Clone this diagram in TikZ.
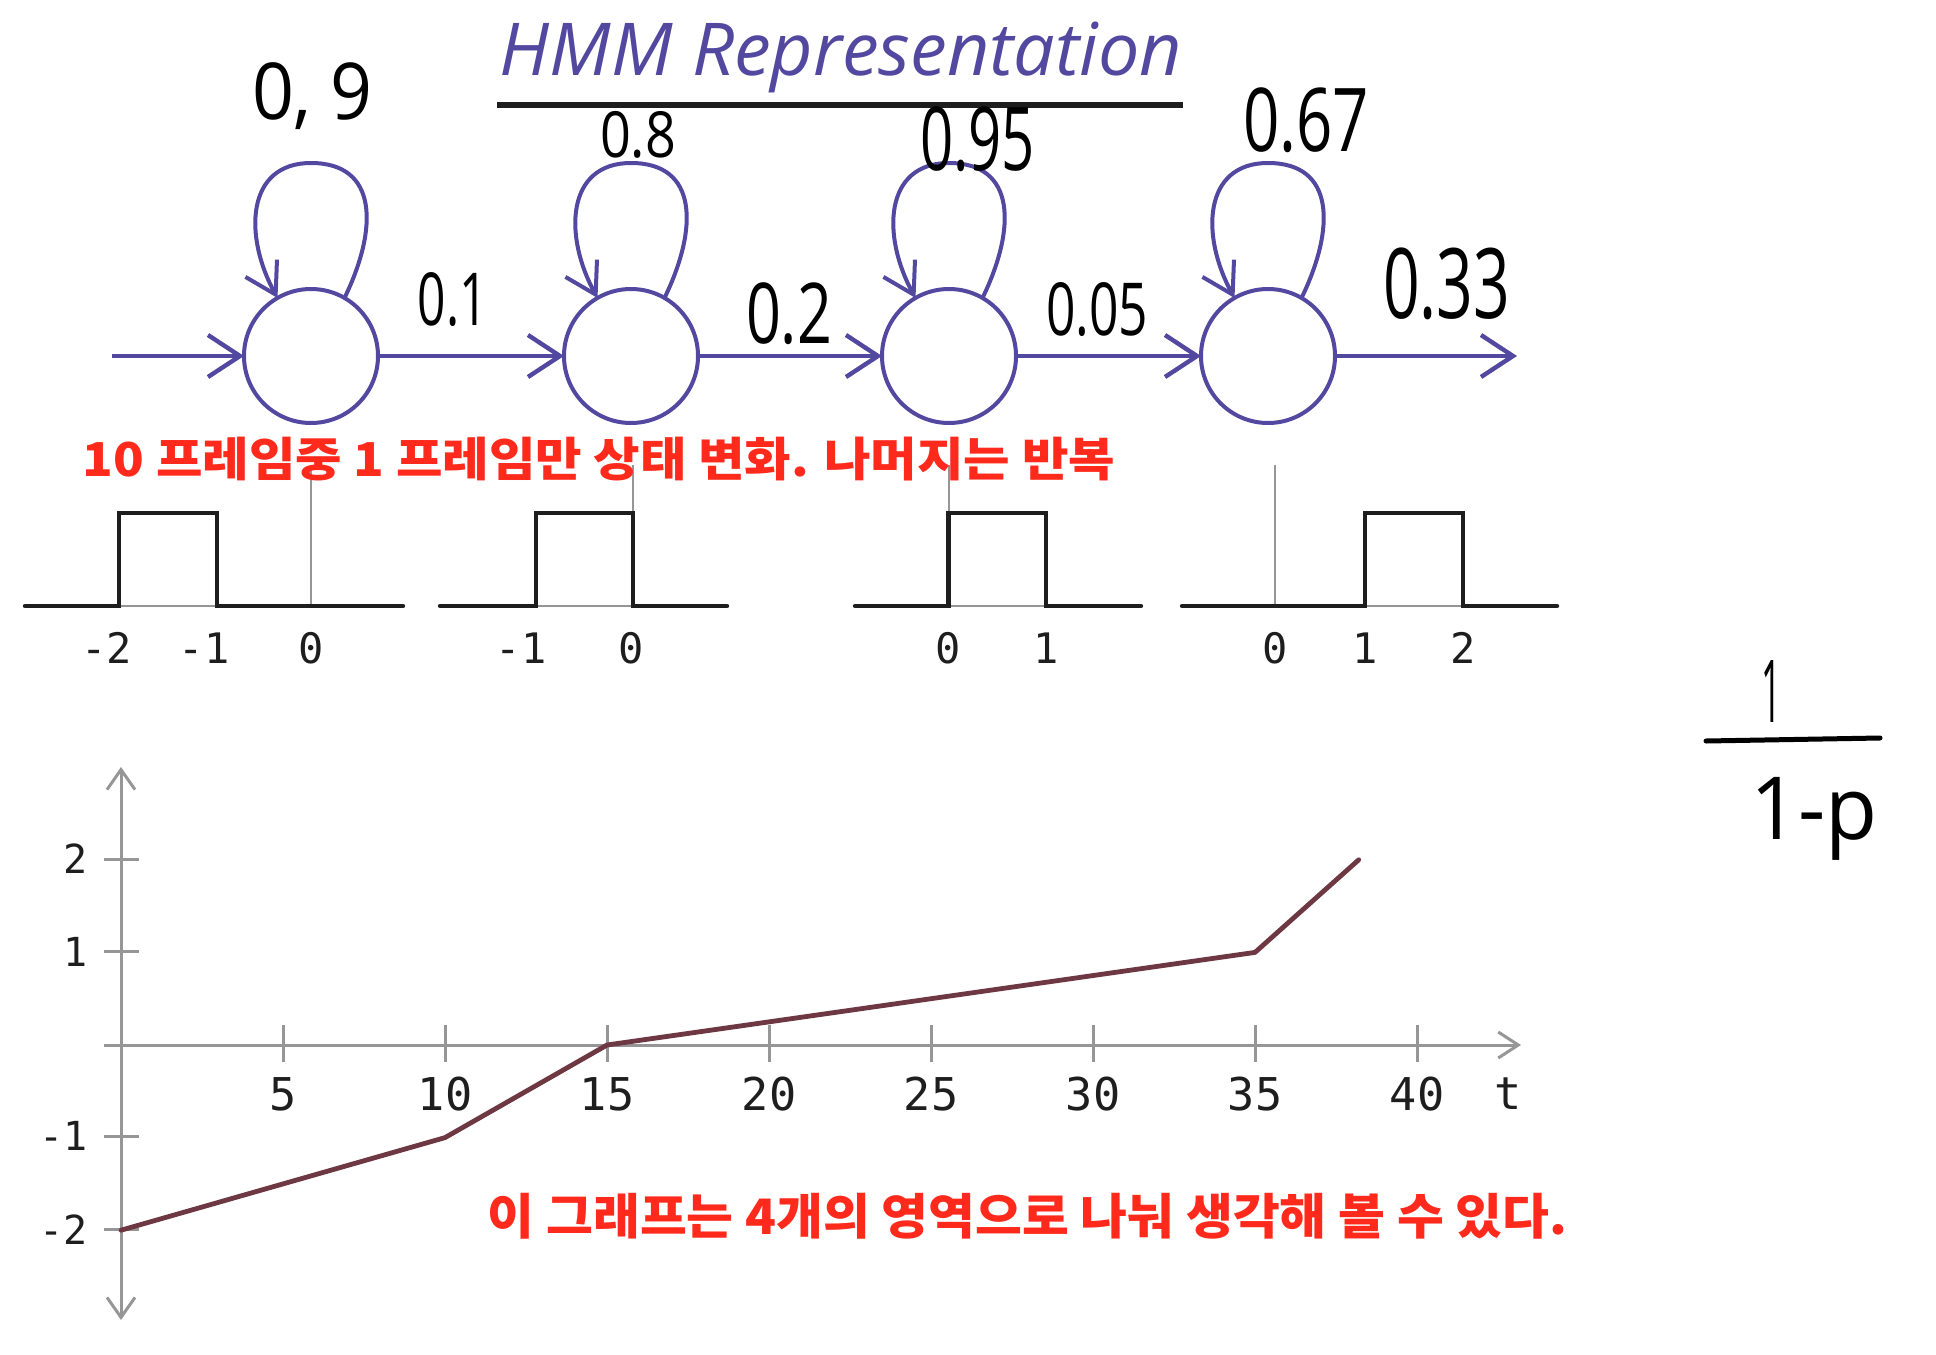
\documentclass[tikz,border=0pt]{standalone}
\usepackage{fontspec}
\usepackage{graphicx}
\usetikzlibrary{arrows.meta}
\newfontfamily\krfont{Noto Sans CJK KR}
\newfontfamily\hwfont{Open Sans}
\newfontfamily\monofont{DejaVu Sans Mono}
\newdimen\pxu \pxu=0.5pt
\newcommand\fitbox[3]{\resizebox*{#1\pxu}{#2\pxu}{#3}}
\definecolor{hmmpurple}{RGB}{82,72,160}
\definecolor{redc}{RGB}{255,42,28}
\definecolor{curvec}{RGB}{110,56,66}
\definecolor{axisc}{RGB}{150,150,150}
\definecolor{inkc}{RGB}{30,30,30}
\begin{document}
\begin{tikzpicture}[x=0.5pt,y=-0.5pt,
  state/.style={circle, draw=hmmpurple, line width=2pt, minimum size=67pt, inner sep=0pt, outer sep=0pt},
  flow/.style={draw=hmmpurple, line width=2.2pt, -{Straight Barb[length=16pt,width=21pt]}},
  selfloop/.style={draw=hmmpurple, line width=2pt, -{Straight Barb[length=15pt,width=18pt]}},
  prob/.style={inner sep=0pt, outer sep=0pt, text=black, font=\hwfont},
  redtxt/.style={inner sep=0pt, outer sep=0pt, text=redc, font=\krfont\bfseries},
  pulse/.style={draw=inkc, line width=2.2pt, line cap=round, line join=miter},
  guide/.style={draw=axisc, line width=1pt},
  plbl/.style={inner sep=0pt, outer sep=0pt, text=inkc, font=\monofont\fontsize{21pt}{21pt}\selectfont},
  xlbl/.style={inner sep=0pt, outer sep=0pt, text=inkc, font=\monofont\fontsize{22.6pt}{22.6pt}\selectfont},
  ylbl/.style={inner sep=0pt, outer sep=0pt, text=inkc, anchor=east, font=\monofont\fontsize{20pt}{20pt}\selectfont},
  axisline/.style={draw=axisc, line width=1.5pt},
  axtip/.style={-{Straight Barb[length=10pt,width=14pt]}},
  curveline/.style={draw=curvec, line width=2.4pt, line join=round, line cap=round}
]
\fill[white] (0,0) rectangle (1936,1354);
\useasboundingbox (0,0) rectangle (1936,1354);

% ---- title ----
\node[inner sep=0pt, text=hmmpurple, font=\hwfont] (title) at (841,57.5) {\fitbox{682}{71}{\itshape HMM Representation}};
\coordinate (ulA) at (497,105);
\coordinate (ulB) at (1183,105);
\draw[line width=3pt, draw=inkc] (ulA) -- (ulB);

% ---- states ----
\node[state] (c1) at (311,356) {};
\node[state] (c2) at (631,356) {};
\node[state] (c3) at (949,356) {};
\node[state] (c4) at (1268,356) {};
\coordinate (t1) at (311,163);
\coordinate (t2) at (631,163);
\coordinate (t3) at (949,163);
\coordinate (t4) at (1268,163);
\coordinate (src) at (112,356);
\coordinate (sink) at (1517,356);

\foreach \i in {1,2,3,4}{
  \draw[selfloop] (c\i.60) .. controls +(34,-70) and +(67,0) .. (t\i)
                  .. controls +(-65,0) and +(-34,-62) .. (c\i.120);
}
\draw[flow] (src) -- (c1.west);
\draw[flow] (c1.east) -- (c2.west);
\draw[flow] (c2.east) -- (c3.west);
\draw[flow] (c3.east) -- (c4.west);
\draw[flow] (c4.east) -- (sink);

% ---- probabilities ----
\node[prob] (p11) at (312.5,96.5) {\fitbox{121}{67}{0, 9}};
\node[prob] (p22) at (638,134.5) {\fitbox{76}{47}{0.8}};
\node[prob] (p33) at (977.5,139.5) {\fitbox{115}{65}{0.95}};
\node[prob] (p44) at (1306,120.5) {\fitbox{126}{65}{0.67}};
\node[prob] (p12) at (453,300) {\fitbox{70}{54}{0.1}};
\node[prob] (p23) at (789,314) {\fitbox{86}{62}{0.2}};
\node[prob] (p34) at (1097,310) {\fitbox{102}{54}{0.05}};
\node[prob] (p4o) at (1446.5,284) {\fitbox{127}{72}{0.33}};

% ---- pulses ----
\draw[guide] (311,465) -- (311,606);
\draw[guide] (633,465) -- (633,513);
\draw[guide] (948.5,465) -- (948.5,513);
\draw[guide] (1275,465) -- (1275,606);
\draw[guide] (25,606) -- (403,606);
\draw[guide] (440,606) -- (727,606);
\draw[guide] (855,606) -- (1141,606);
\draw[guide] (1182,606) -- (1557,606);
\draw[pulse] (25,606) -- (119,606) -- (119,513) -- (217,513) -- (217,606) -- (403,606);
\draw[pulse] (440,606) -- (536,606) -- (536,513) -- (633,513) -- (633,606) -- (727,606);
\draw[pulse] (855,606) -- (948.5,606) -- (948.5,513) -- (1046,513) -- (1046,606) -- (1141,606);
\draw[pulse] (1182,606) -- (1365,606) -- (1365,513) -- (1463,513) -- (1463,606) -- (1557,606);

\node[plbl] (a1) at (107,648) {-2};
\node[plbl] (a2) at (204,648) {-1};
\node[plbl] (a3) at (311,648) {0};
\node[plbl] (b1) at (521,648) {-1};
\node[plbl] (b2) at (631,648) {0};
\node[plbl] (d1) at (948.5,648) {0};
\node[plbl] (d2) at (1046,648) {1};
\node[plbl] (e1) at (1275,648) {0};
\node[plbl] (e2) at (1365,648) {1};
\node[plbl] (e3) at (1463,648) {2};

% ---- red notes ----
\node[redtxt] (note1) at (599,459.5) {\fitbox{1032}{44}{10 프레임중 1 프레임만 상태 변화. 나머지는 반복}};
\node[redtxt] (note2) at (1027.5,1216) {\fitbox{1079}{46}{이 그래프는 4개의 영역으로 나눠 생각해 볼 수 있다.}};

% ---- fraction ----
\node[prob] (num) at (1771,691) {\fitbox{20}{62}{1}};
\node[prob] (den) at (1814,818.5) {\fitbox{128}{83}{1-p}};
\coordinate (barA) at (1706,741);
\coordinate (barB) at (1880,738);
\draw[draw=black, line width=2.5pt, line cap=round] (barA) -- (barB);

% ---- graph ----
\draw[axisline, {Straight Barb[length=10pt,width=14pt]}-{Straight Barb[length=10pt,width=14pt]}] (121,1320) -- (121,767);
\draw[axisline, -{Straight Barb[length=10pt,width=13pt]}] (104,1045) -- (1521,1045);
\foreach \yy in {859,951.5,1136,1229.6}{
  \draw[axisline] (104,\yy) -- (139,\yy);
}
\foreach \tt in {5,10,...,40}{
  \draw[axisline] ({121+32.4*\tt},1025) -- ({121+32.4*\tt},1062);
  \node[xlbl] (xl\tt) at ({121+32.4*\tt},1094) {\tt};
}
\node[xlbl] (tlbl) at (1508,1094) {t};
\node[ylbl] (y2) at (88,859) {2};
\node[ylbl] (y1) at (88,951.5) {1};
\node[ylbl] (ym1) at (88,1136) {-1};
\node[ylbl] (ym2) at (88,1229.6) {-2};

\draw[curveline] (121,1230.2) -- (445,1137.6) -- (607,1045) -- (1255,952.4) -- (1358.7,859.8);
\end{tikzpicture}
\end{document}
